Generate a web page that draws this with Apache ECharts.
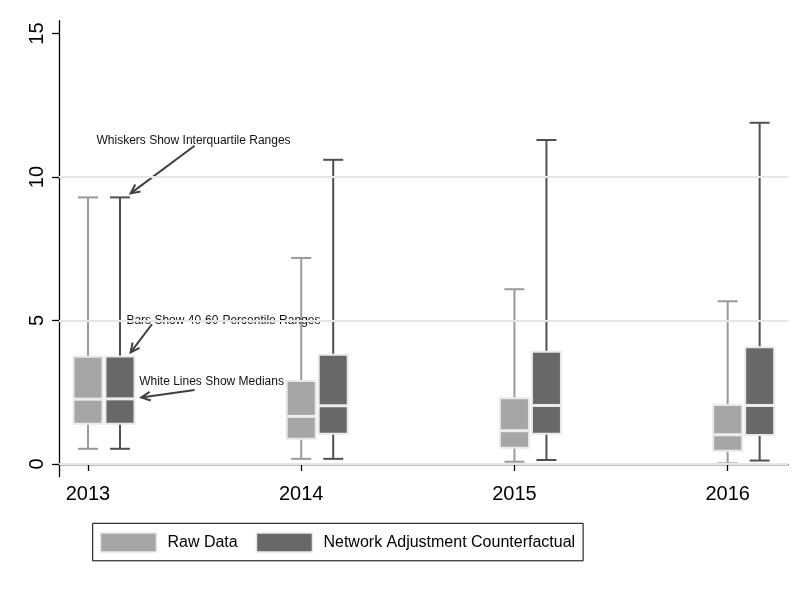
<!DOCTYPE html>
<html>
<head>
<meta charset="utf-8">
<script src="https://cdn.jsdelivr.net/npm/echarts@6/dist/echarts.min.js"></script>
<style>
    html, body { margin: 0; padding: 0; background: #fff; }
    #chart { width: 809px; height: 589px; }
</style>
</head>
<body>
<div id="chart"></div>
<script>
const years = [2013, 2014, 2015, 2016];
const yTicks = [0, 5, 10, 15];
const gridValues = [0, 5, 10];

// percentiles
const rawP25 = [0.53, 0.18, 0.08, 0.02];
const rawP40 = [1.40, 0.88, 0.57, 0.46];
const rawP50 = [2.26, 1.66, 1.16, 1.02];
const rawP60 = [3.74, 2.89, 2.29, 2.06];
const rawP75 = [9.29, 7.18, 6.09, 5.67];

const netP25 = [0.53, 0.18, 0.14, 0.12];
const netP40 = [1.40, 1.05, 1.05, 1.01];
const netP50 = [2.27, 2.03, 2.04, 2.04];
const netP60 = [3.75, 3.81, 3.91, 4.07];
const netP75 = [9.29, 10.60, 11.29, 11.89];

const noteText = ['Whiskers Show Interquartile Ranges', 'Bars Show 40-60-Percentile Ranges', 'White Lines Show Medians'];
const noteAt = [[2013.04, 11.26], [2013.18, 5.01], [2013.24, 2.87]];
const arrowFrom = [[2013.50, 11.09], [2013.30, 4.87], [2013.50, 2.58]];
const arrowTo = [[2013.20, 9.43], [2013.20, 3.89], [2013.25, 2.32]];

const FONT = "'Liberation Sans', Arial, sans-serif";

const chart = echarts.init(document.getElementById('chart'));

function boxRows(p25, p40, p50, p60, p75) {
    return years.map((y, i) => [y, p25[i], p40[i], p50[i], p60[i], p75[i]]);
}

function boxRenderer(shift, fill, whisker) {
    return function (params, api) {
        const x = api.coord([api.value(0), 0])[0] + shift;
        const lo = api.coord([api.value(0), api.value(1)])[1];
        const q1 = api.coord([api.value(0), api.value(2)])[1];
        const md = api.coord([api.value(0), api.value(3)])[1];
        const q3 = api.coord([api.value(0), api.value(4)])[1];
        const hi = api.coord([api.value(0), api.value(5)])[1];
        const bw = 29, cw = 20;
        const ws = { stroke: whisker, lineWidth: 2 };
        return {
            type: 'group',
            children: [
                { type: 'line', shape: { x1: x, y1: lo, x2: x, y2: hi }, style: ws },
                { type: 'line', shape: { x1: x - cw / 2, y1: lo, x2: x + cw / 2, y2: lo }, style: ws },
                { type: 'line', shape: { x1: x - cw / 2, y1: hi, x2: x + cw / 2, y2: hi }, style: ws },
                { type: 'rect', shape: { x: x - bw / 2, y: q3, width: bw, height: q1 - q3 },
                  style: { fill: fill, stroke: '#e9e9e9', lineWidth: 2 } },
                { type: 'line', shape: { x1: x - bw / 2, y1: md, x2: x + bw / 2, y2: md },
                  style: { stroke: '#ececec', lineWidth: 3 } }
            ]
        };
    };
}

function noteRenderer(params, api) {
    const t = api.coord([api.value(0), api.value(1)]);
    const a = api.coord([api.value(2), api.value(3)]);
    const b = api.coord([api.value(4), api.value(5)]);
    const ang = Math.atan2(a[1] - b[1], a[0] - b[0]);
    const len = 10, spread = 0.45;
    const h1 = [b[0] + len * Math.cos(ang + spread), b[1] + len * Math.sin(ang + spread)];
    const h2 = [b[0] + len * Math.cos(ang - spread), b[1] + len * Math.sin(ang - spread)];
    const st = { stroke: '#404040', lineWidth: 2, fill: null };
    return {
        type: 'group',
        children: [
            { type: 'line', shape: { x1: a[0], y1: a[1], x2: b[0], y2: b[1] }, style: st },
            { type: 'polyline', shape: { points: [h1, b, h2] }, style: st },
            { type: 'text', x: t[0], y: t[1],
              style: { text: noteText[params.dataIndex], fill: '#111', font: '12px ' + FONT,
                       textAlign: 'left', textVerticalAlign: 'middle' } }
        ]
    };
}

const option = {
    backgroundColor: '#fff',
    animation: false,
    grid: { left: 59, right: 21, top: 20.7, bottom: 112.3 },
    xAxis: {
        type: 'value',
        min: 2012.864,
        max: 2016.283,
        axisLine: { lineStyle: { color: '#000', width: 1.3 } },
        axisTick: { customValues: years, length: 7, lineStyle: { color: '#000', width: 1.3 } },
        axisLabel: { customValues: years, formatter: v => String(v), color: '#000',
                     fontSize: 20, fontFamily: FONT, margin: 8 },
        splitLine: { show: false }
    },
    yAxis: {
        type: 'value',
        min: -0.4425,
        max: 15.447,
        axisLine: { show: true, lineStyle: { color: '#000', width: 1.3 } },
        axisTick: { show: true, customValues: yTicks, length: 7, lineStyle: { color: '#000', width: 1.3 } },
        axisLabel: { customValues: yTicks, rotate: 90, color: '#000', fontSize: 20,
                     fontFamily: FONT, margin: 12 },
        splitLine: { show: false }
    },
    legend: {
        left: 92.7,
        top: 523.3,
        orient: 'horizontal',
        itemWidth: 56,
        itemHeight: 19,
        itemGap: 18,
        padding: [9, 8, 8, 7],
        borderColor: '#000',
        borderWidth: 1,
        icon: 'rect',
        itemStyle: { borderColor: '#e9e9e9', borderWidth: 1.5 },
        textStyle: { fontSize: 16, fontFamily: FONT, color: '#000', padding: [0, 0, 0, 6] },
        data: ['Raw Data', 'Network Adjustment Counterfactual']
    },
    series: [
        {
            name: 'Raw Data',
            type: 'custom',
            itemStyle: { color: '#a6a6a6' },
            encode: { x: 0, y: [1, 2, 3, 4, 5] },
            renderItem: boxRenderer(0, '#a6a6a6', '#9a9a9a'),
            data: boxRows(rawP25, rawP40, rawP50, rawP60, rawP75),
            markLine: {
                silent: true,
                symbol: ['none', 'none'],
                label: { show: false },
                lineStyle: { color: '#e6e6e6', width: 2, type: 'solid' },
                data: gridValues.map(v => ({ yAxis: v }))
            },
            z: 3
        },
        {
            name: 'Network Adjustment Counterfactual',
            type: 'custom',
            itemStyle: { color: '#686868' },
            encode: { x: 0, y: [1, 2, 3, 4, 5] },
            renderItem: boxRenderer(32, '#686868', '#505050'),
            data: boxRows(netP25, netP40, netP50, netP60, netP75),
            z: 3
        },
        {
            name: 'notes',
            type: 'custom',
            silent: true,
            encode: { x: [0, 2, 4], y: [1, 3, 5] },
            renderItem: noteRenderer,
            data: noteText.map((t, i) => [noteAt[i][0], noteAt[i][1], arrowFrom[i][0], arrowFrom[i][1], arrowTo[i][0], arrowTo[i][1]]),
            z: 4
        }
    ]
};

chart.setOption(option);
</script>
</body>
</html>
